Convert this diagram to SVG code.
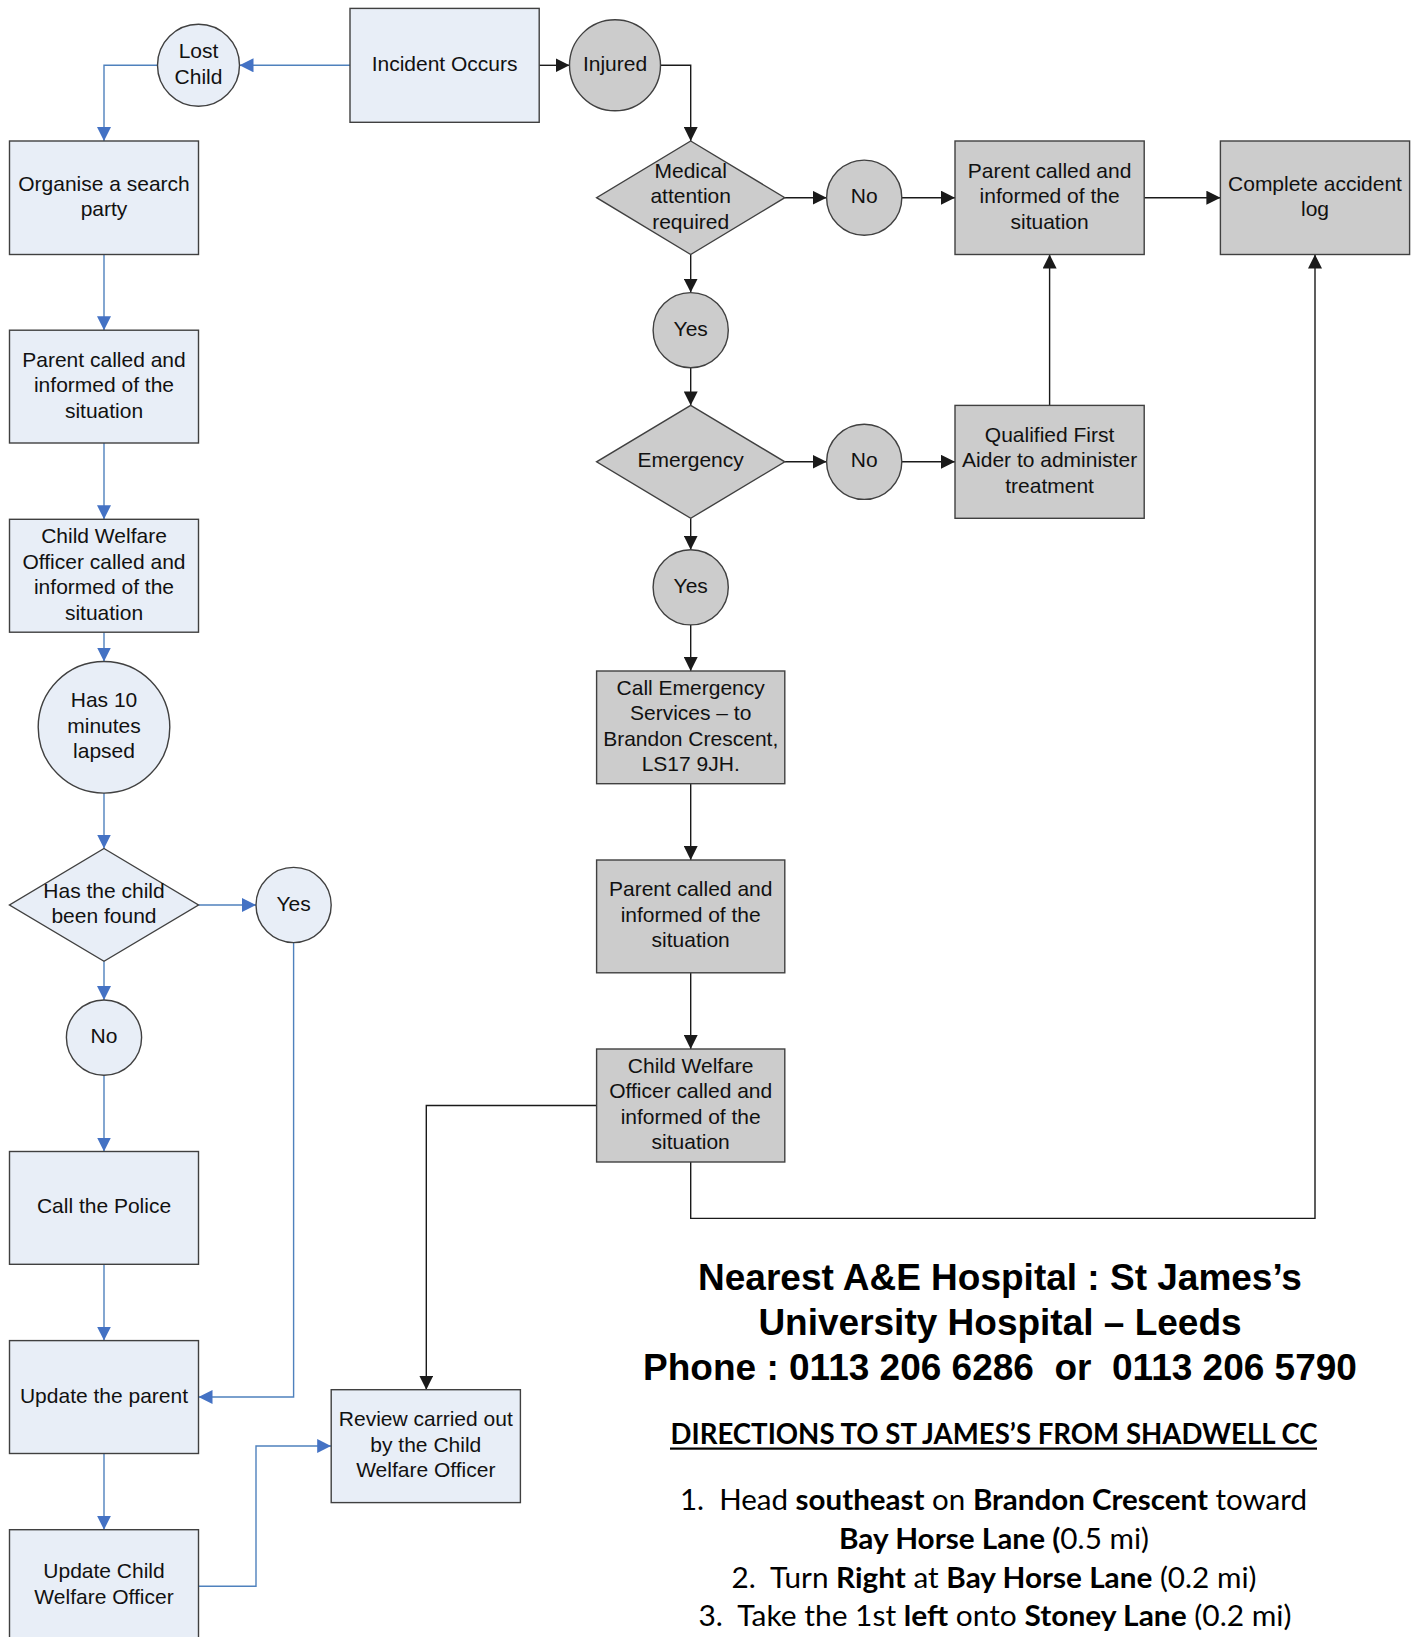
<svg xmlns="http://www.w3.org/2000/svg" width="1421" height="1637" viewBox="0 0 1421 1637">
<style>
.nb{fill:#E8EEF7;stroke:#404040;stroke-width:1.4}
.ng{fill:#CCCCCC;stroke:#404040;stroke-width:1.4}
.t{font-family:"Liberation Sans",Arial,sans-serif;font-size:21px;fill:#111;text-anchor:middle;transform:translateY(-2px)}
.cb{fill:none;stroke:#4F81BD;stroke-width:1.4}
.ck{fill:none;stroke:#1a1a1a;stroke-width:1.4}
.h{font-family:"Liberation Sans",Arial,sans-serif;font-size:37px;font-weight:bold;fill:#000;text-anchor:middle;white-space:pre}
.d{font-family:Lato,"Open Sans",sans-serif;font-size:29px;fill:#000;text-anchor:middle;white-space:pre}
.b{font-weight:bold}
</style>
<defs>
<marker id="ab" markerUnits="userSpaceOnUse" markerWidth="14" markerHeight="14" refX="14" refY="7" orient="auto"><path d="M0,0 L14,7 L0,14 z" fill="#4472C4"/></marker>
<marker id="ak" markerUnits="userSpaceOnUse" markerWidth="14" markerHeight="14" refX="14" refY="7" orient="auto"><path d="M0,0 L14,7 L0,14 z" fill="#1a1a1a"/></marker>
</defs>
<rect width="1421" height="1637" fill="#fff"/>

<g id="connectors">
<path class="cb" d="M350,65.3 H239.5" marker-end="url(#ab)"/>
<path class="cb" d="M157.5,65.3 H104 V141" marker-end="url(#ab)"/>
<path class="cb" d="M104,254.5 V330.2" marker-end="url(#ab)"/>
<path class="cb" d="M104,443 V519.3" marker-end="url(#ab)"/>
<path class="cb" d="M104,632.2 V661.5" marker-end="url(#ab)"/>
<path class="cb" d="M104,793.1 V848.5" marker-end="url(#ab)"/>
<path class="cb" d="M198.5,905 H256" marker-end="url(#ab)"/>
<path class="cb" d="M104,961.3 V1000" marker-end="url(#ab)"/>
<path class="cb" d="M104,1075.2 V1151.5" marker-end="url(#ab)"/>
<path class="cb" d="M104,1264.3 V1340.6" marker-end="url(#ab)"/>
<path class="cb" d="M104,1453.5 V1529.7" marker-end="url(#ab)"/>
<path class="cb" d="M293.6,942.6 V1397 H198.5" marker-end="url(#ab)"/>
<path class="cb" d="M198.5,1586.2 H256 V1446 H331.2" marker-end="url(#ab)"/>

<path class="ck" d="M539.2,65.3 H569.5" marker-end="url(#ak)"/>
<path class="ck" d="M660.5,65.3 H690.7 V141" marker-end="url(#ak)"/>
<path class="ck" d="M784.8,197.7 H826.6" marker-end="url(#ak)"/>
<path class="ck" d="M901.8,197.7 H955" marker-end="url(#ak)"/>
<path class="ck" d="M1144.2,197.7 H1220.4" marker-end="url(#ak)"/>
<path class="ck" d="M690.7,254.5 V292.6" marker-end="url(#ak)"/>
<path class="ck" d="M690.7,367.8 V405.4" marker-end="url(#ak)"/>
<path class="ck" d="M784.8,461.8 H826.6" marker-end="url(#ak)"/>
<path class="ck" d="M901.8,461.8 H955" marker-end="url(#ak)"/>
<path class="ck" d="M1049.6,405.4 V254.5" marker-end="url(#ak)"/>
<path class="ck" d="M690.7,518.3 V549.7" marker-end="url(#ak)"/>
<path class="ck" d="M690.7,624.9 V671" marker-end="url(#ak)"/>
<path class="ck" d="M690.7,783.7 V860" marker-end="url(#ak)"/>
<path class="ck" d="M690.7,972.8 V1049" marker-end="url(#ak)"/>
<path class="ck" d="M596.6,1105.5 H426.3 V1389.7" marker-end="url(#ak)"/>
<path class="ck" d="M690.7,1162 V1218.4 H1315 V254.5" marker-end="url(#ak)"/>
</g>

<g id="lost-child"><circle class="nb" cx="198.5" cy="65.3" r="41"/><text class="t" x="198.5" y="60">Lost</text><text class="t" x="198.5" y="85.5">Child</text></g>
<g id="incident"><rect class="nb" x="350" y="8.4" width="189.2" height="113.9"/><text class="t" x="444.6" y="72.8">Incident Occurs</text></g>
<g id="injured"><circle class="ng" cx="615" cy="65.3" r="45.5"/><text class="t" x="615" y="72.8">Injured</text></g>

<g id="organise"><rect class="nb" x="9.5" y="141" width="189" height="113.5"/><text class="t" x="104" y="192.5">Organise a search</text><text class="t" x="104" y="218">party</text></g>
<g id="parent-left"><rect class="nb" x="9.5" y="330.2" width="189" height="112.8"/><text class="t" x="104" y="368.6">Parent called and</text><text class="t" x="104" y="394.1">informed of the</text><text class="t" x="104" y="419.6">situation</text></g>
<g id="cwo-left"><rect class="nb" x="9.5" y="519.3" width="189" height="112.9"/><text class="t" x="104" y="545">Child Welfare</text><text class="t" x="104" y="570.5">Officer called and</text><text class="t" x="104" y="596">informed of the</text><text class="t" x="104" y="621.5">situation</text></g>
<g id="ten-minutes"><circle class="nb" cx="104" cy="727.3" r="65.8"/><text class="t" x="104" y="709.3">Has 10</text><text class="t" x="104" y="734.8">minutes</text><text class="t" x="104" y="760.3">lapsed</text></g>
<g id="child-found"><polygon class="nb" points="104,848.5 198.5,905 104,961.3 9.5,905"/><text class="t" x="104" y="899.7">Has the child</text><text class="t" x="104" y="925.2">been found</text></g>
<g id="yes-found"><circle class="nb" cx="293.6" cy="905" r="37.6"/><text class="t" x="293.6" y="912.5">Yes</text></g>
<g id="no-found"><circle class="nb" cx="104" cy="1037.6" r="37.6"/><text class="t" x="104" y="1045.1">No</text></g>
<g id="police"><rect class="nb" x="9.5" y="1151.5" width="189" height="112.8"/><text class="t" x="104" y="1215.4">Call the Police</text></g>
<g id="update-parent"><rect class="nb" x="9.5" y="1340.6" width="189" height="112.9"/><text class="t" x="104" y="1404.5">Update the parent</text></g>
<g id="update-cwo"><rect class="nb" x="9.5" y="1529.7" width="189" height="113.5"/><text class="t" x="104" y="1580.1">Update Child</text><text class="t" x="104" y="1605.6">Welfare Officer</text></g>
<g id="review"><rect class="nb" x="331.2" y="1389.7" width="189.2" height="112.9"/><text class="t" x="425.8" y="1428.2">Review carried out</text><text class="t" x="425.8" y="1453.7">by the Child</text><text class="t" x="425.8" y="1479.2">Welfare Officer</text></g>

<g id="medical"><polygon class="ng" points="690.7,141 784.8,197.7 690.7,254.5 596.6,197.7"/><text class="t" x="690.7" y="179.7">Medical</text><text class="t" x="690.7" y="205.2">attention</text><text class="t" x="690.7" y="230.7">required</text></g>
<g id="no-medical"><circle class="ng" cx="864.2" cy="197.7" r="37.6"/><text class="t" x="864.2" y="205.2">No</text></g>
<g id="parent-gray-top"><rect class="ng" x="955" y="141" width="189.2" height="113.5"/><text class="t" x="1049.6" y="179.7">Parent called and</text><text class="t" x="1049.6" y="205.2">informed of the</text><text class="t" x="1049.6" y="230.7">situation</text></g>
<g id="accident-log"><rect class="ng" x="1220.4" y="141" width="189.2" height="113.5"/><text class="t" x="1315" y="192.5">Complete accident</text><text class="t" x="1315" y="218">log</text></g>
<g id="yes-medical"><circle class="ng" cx="690.7" cy="330.2" r="37.6"/><text class="t" x="690.7" y="337.7">Yes</text></g>
<g id="emergency"><polygon class="ng" points="690.7,405.4 784.8,461.8 690.7,518.3 596.6,461.8"/><text class="t" x="690.7" y="469.3">Emergency</text></g>
<g id="no-emergency"><circle class="ng" cx="864.2" cy="461.8" r="37.6"/><text class="t" x="864.2" y="469.3">No</text></g>
<g id="first-aider"><rect class="ng" x="955" y="405.4" width="189.2" height="112.9"/><text class="t" x="1049.6" y="443.8">Qualified First</text><text class="t" x="1049.6" y="469.3">Aider to administer</text><text class="t" x="1049.6" y="494.8">treatment</text></g>
<g id="yes-emergency"><circle class="ng" cx="690.7" cy="587.3" r="37.6"/><text class="t" x="690.7" y="594.8">Yes</text></g>
<g id="call-emergency"><rect class="ng" x="596.6" y="671" width="188.2" height="112.7"/><text class="t" x="690.7" y="696.7">Call Emergency</text><text class="t" x="690.7" y="722.2">Services – to</text><text class="t" x="690.7" y="747.7">Brandon Crescent,</text><text class="t" x="690.7" y="773.2">LS17 9JH.</text></g>
<g id="parent-gray-mid"><rect class="ng" x="596.6" y="860" width="188.2" height="112.8"/><text class="t" x="690.7" y="898.4">Parent called and</text><text class="t" x="690.7" y="923.9">informed of the</text><text class="t" x="690.7" y="949.4">situation</text></g>
<g id="cwo-gray"><rect class="ng" x="596.6" y="1049" width="188.2" height="113"/><text class="t" x="690.7" y="1074.8">Child Welfare</text><text class="t" x="690.7" y="1100.3">Officer called and</text><text class="t" x="690.7" y="1125.8">informed of the</text><text class="t" x="690.7" y="1151.3">situation</text></g>

<g id="hospital-info">
<text class="h" x="1000" y="1290">Nearest A&amp;E Hospital : St James’s</text>
<text class="h" x="1000" y="1335">University Hospital – Leeds</text>
<text class="h" x="1000" y="1380">Phone : 0113 206 6286  or  0113 206 5790</text>
</g>
<g id="directions">
<text class="d b" x="994" y="1444" font-size="27" textLength="647" lengthAdjust="spacingAndGlyphs">DIRECTIONS TO ST JAMES’S FROM SHADWELL CC</text>
<rect x="670" y="1447.5" width="647" height="2.2" fill="#000"/>
<text class="d" x="993.5" y="1510" textLength="627" lengthAdjust="spacingAndGlyphs">1.  Head <tspan class="b">southeast</tspan> on <tspan class="b">Brandon Crescent</tspan> toward</text>
<text class="d" x="994" y="1549" textLength="310" lengthAdjust="spacingAndGlyphs"><tspan class="b">Bay Horse Lane (</tspan>0.5 mi)</text>
<text class="d" x="994" y="1588" textLength="525" lengthAdjust="spacingAndGlyphs">2.  Turn <tspan class="b">Right</tspan> at <tspan class="b">Bay Horse Lane</tspan> (0.2 mi)</text>
<text class="d" x="995" y="1626" textLength="593" lengthAdjust="spacingAndGlyphs">3.  Take the 1st <tspan class="b">left</tspan> onto <tspan class="b">Stoney Lane</tspan> (0.2 mi)</text>
</g>
</svg>
